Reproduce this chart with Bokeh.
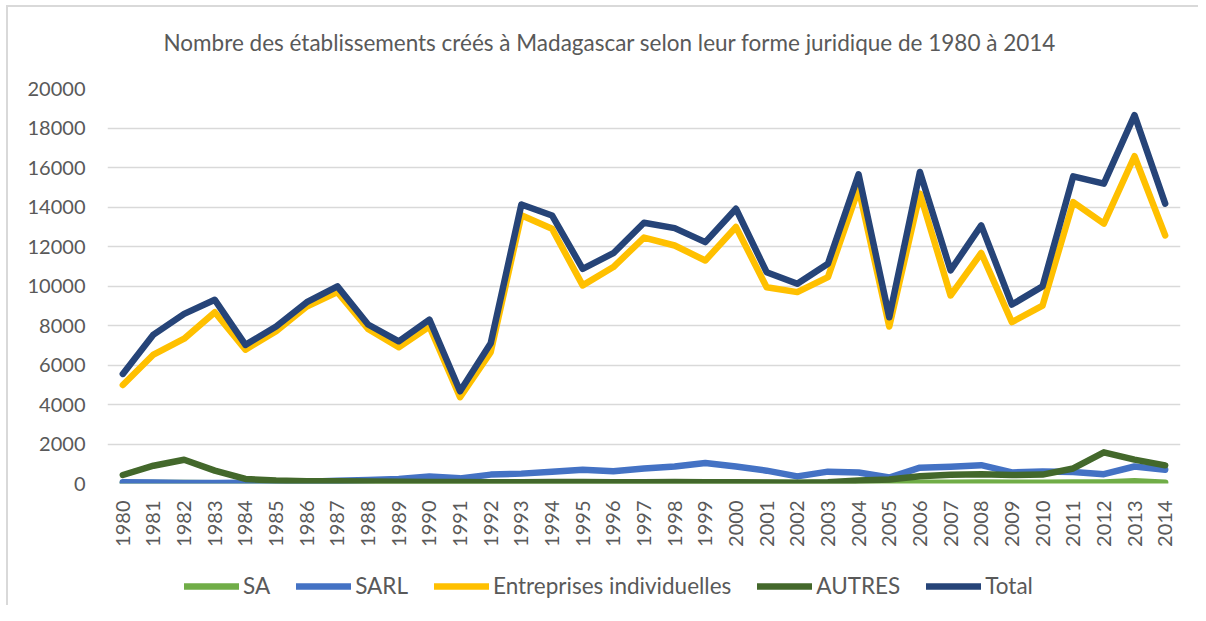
import math
from bokeh.plotting import figure
from bokeh.layouts import column
from bokeh.models import Range1d, FixedTicker, Legend, LegendItem, ColumnDataSource, Label
from bokeh.embed import file_html
from bokeh.resources import INLINE

years = list(range(1980, 2015))
sa = [30, 25, 20, 15, 15, 20, 20, 25, 25, 30, 30, 25, 30, 35, 40, 40, 35, 35, 40, 40,
      40, 35, 30, 30, 35, 30, 40, 40, 45, 40, 40, 45, 50, 110, 40]
sarl = [60, 50, 30, 30, 40, 60, 90, 140, 180, 230, 350, 260, 450, 500, 600, 700, 620, 760, 860, 1040,
        860, 650, 360, 600, 560, 300, 800, 850, 930, 560, 610, 580, 470, 860, 700]
ei = [4990, 6530, 7330, 8670, 6780, 7710, 8960, 9690, 7830, 6900, 7950, 4370, 6650, 13580, 12900,
      10030, 10960, 12450, 12050, 11290, 12990, 9940, 9690, 10450, 14930, 7950, 14680, 9520, 11670,
      8170, 9010, 14250, 13160, 16570, 12560]
autres = [430, 900, 1200, 650, 230, 150, 120, 110, 100, 90, 80, 70, 60, 60, 70, 70, 60, 60, 70, 60,
          60, 50, 40, 60, 150, 200, 370, 440, 470, 430, 450, 760, 1580, 1210, 920]
total = [5550, 7540, 8590, 9300, 7020, 7950, 9180, 9980, 8050, 7200, 8300, 4670, 7100, 14130, 13570,
         10870, 11660, 13200, 12930, 12220, 13910, 10700, 10110, 11130, 15650, 8420, 15770, 10790,
         13070, 9060, 9980, 15550, 15180, 18650, 14170]
series_keys = ["sa", "sarl", "ei", "autres", "total"]
series_names = ["SA", "SARL", "Entreprises individuelles", "AUTRES", "Total"]
series_colors = ["#70AD47", "#4472C4", "#FFC000", "#43682B", "#264478"]
y_ticks = list(range(0, 20001, 2000))
title_text = "Nombre des établissements créés à  Madagascar  selon leur forme juridique de 1980 à 2014"

FONT = "Lato"
GRAY = "#595959"
LW = 6.5
W = 1190


def strip(height):
    f = figure(width=W, height=height, output_backend="svg", toolbar_location=None,
               x_axis_type=None, y_axis_type=None,
               x_range=Range1d(0, W), y_range=Range1d(0, height),
               min_border_left=0, min_border_right=0, min_border_top=0, min_border_bottom=0)
    f.outline_line_color = None
    f.xgrid.grid_line_color = None
    f.ygrid.grid_line_color = None
    return f


# title strip
tf = strip(60)
tf.add_layout(Label(x=56, y=25, x_units="screen", y_units="screen", text=title_text,
                    text_font=FONT, text_font_size="22.5px", text_color=GRAY,
                    text_align="left", text_baseline="middle"))

# main chart
p = figure(width=W, height=488, output_backend="svg", toolbar_location=None,
           x_range=Range1d(1979.5, 2014.5), y_range=Range1d(0, 20000),
           min_border_left=99, min_border_right=18, min_border_top=21, min_border_bottom=72)
p.outline_line_color = None
p.xgrid.grid_line_color = None
p.ygrid.grid_line_color = "#d9d9d9"
p.ygrid.grid_line_width = 1.5
p.ygrid.ticker = FixedTicker(ticks=y_ticks)

p.xaxis.ticker = FixedTicker(ticks=years)
p.xaxis.major_label_orientation = math.pi / 2
p.yaxis.ticker = FixedTicker(ticks=y_ticks)
for ax in (p.xaxis[0], p.yaxis[0]):
    ax.axis_line_color = None
    ax.major_tick_line_color = None
    ax.minor_tick_line_color = None
    ax.major_tick_out = 0
    ax.major_tick_in = 0
    ax.major_label_text_font = FONT
    ax.major_label_text_font_size = "20px"
    ax.major_label_text_color = GRAY
p.xaxis.major_label_standoff = 17
p.yaxis.major_label_standoff = 22

src = ColumnDataSource(dict(year=years, sa=sa, sarl=sarl, ei=ei, autres=autres, total=total))
for key, color in zip(series_keys, series_colors):
    p.line("year", key, source=src, line_color=color, line_width=LW,
           line_join="round", line_cap="round")

# legend strip
lg = strip(50)
items = []
offscreen = ColumnDataSource(dict(x=[-10, -9], y=[-10, -10]))
for name, color in zip(series_names, series_colors):
    r = lg.line("x", "y", source=offscreen, line_color=color, line_width=LW, line_cap="round")
    items.append(LegendItem(label=name, renderers=[r]))
legend = Legend(items=items, orientation="horizontal", location=(77, 6),
                glyph_width=55, glyph_height=24, label_height=24, label_standoff=4, spacing=26,
                label_text_font=FONT, label_text_font_size="22.5px", label_text_color=GRAY,
                border_line_color=None, background_fill_alpha=0, padding=0, margin=0)
lg.add_layout(legend, "center")

layout = column(tf, p, lg, margin=(5, 0, 0, 6),
                styles={"border-left": "2px solid #d9d9d9", "border-top": "2px solid #d9d9d9"})

open("out.html", "w").write(file_html(layout, INLINE))
